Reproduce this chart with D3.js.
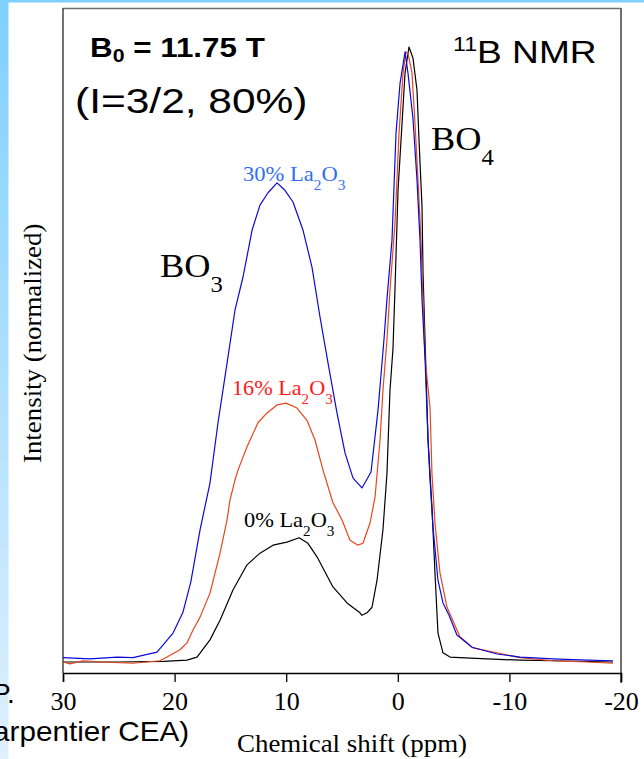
<!DOCTYPE html>
<html>
<head>
<meta charset="utf-8">
<script src="https://cdn.jsdelivr.net/npm/d3@7"></script>
<style>
  html, body { margin: 0; padding: 0; background: #ffffff; }
  svg { display: block; }
</style>
</head>
<body>
<svg id="chart" width="644" height="759"></svg>
<script>
// ---- data ----
const xTicks = [30, 20, 10, 0, -10, -20];
const xTickLabels = ["30", "20", "10", "0", "-10", "-20"];

const ppm30 = [30.00, 27.58, 25.16, 23.73, 21.58, 20.14, 19.25, 18.55, 17.72, 16.83, 16.11, 15.30, 14.59, 13.87, 13.06, 12.35, 11.63, 10.82, 10.11, 9.39, 8.49, 7.69, 6.97, 6.25, 5.45, 4.73, 4.01, 3.21, 2.40, 1.77, 1.24, 0.97, 0.52, 0.16, -0.20, -0.65, -0.91, -1.36, -1.72, -1.99, -2.17, -2.44, -2.71, -2.89, -3.15, -3.60, -4.05, -4.59, -5.30, -6.65, -8.89, -10.95, -13.91, -16.95, -19.28];
const int30 = [0.007, 0.005, 0.008, 0.007, 0.016, 0.047, 0.081, 0.130, 0.215, 0.291, 0.389, 0.486, 0.572, 0.626, 0.702, 0.743, 0.763, 0.779, 0.767, 0.748, 0.702, 0.642, 0.561, 0.486, 0.405, 0.340, 0.299, 0.283, 0.309, 0.410, 0.524, 0.590, 0.686, 0.860, 0.941, 0.992, 0.958, 0.884, 0.784, 0.686, 0.589, 0.494, 0.361, 0.296, 0.220, 0.133, 0.096, 0.076, 0.044, 0.024, 0.013, 0.008, 0.005, 0.003, 0.002];

const ppm16 = [30.00, 29.37, 28.21, 26.68, 23.73, 21.31, 20.68, 19.52, 18.89, 18.35, 17.72, 16.83, 15.93, 15.30, 15.04, 14.59, 14.32, 13.51, 12.53, 11.72, 10.82, 10.02, 9.03, 8.14, 7.42, 6.70, 5.81, 5.00, 4.28, 3.57, 3.12, 2.49, 2.04, 1.59, 1.33, 0.97, 0.70, 0.25, -0.11, -0.47, -0.73, -0.91, -1.27, -1.54, -1.81, -2.08, -2.26, -2.44, -2.89, -3.06, -3.33, -3.78, -4.41, -5.57, -6.74, -8.89, -10.95, -13.91, -16.95, -19.28];
const int16 = [0.000, -0.003, 0.002, 0.000, -0.002, 0.002, 0.008, 0.020, 0.031, 0.052, 0.073, 0.112, 0.177, 0.231, 0.263, 0.296, 0.312, 0.350, 0.389, 0.405, 0.418, 0.421, 0.413, 0.393, 0.361, 0.312, 0.259, 0.231, 0.198, 0.190, 0.193, 0.226, 0.268, 0.361, 0.442, 0.524, 0.605, 0.714, 0.860, 0.958, 0.992, 0.990, 0.958, 0.876, 0.784, 0.686, 0.589, 0.494, 0.413, 0.307, 0.226, 0.145, 0.089, 0.041, 0.023, 0.015, 0.007, 0.002, 0.000, -0.002];

const ppm0 = [30.00, 25.00, 21.00, 18.89, 17.99, 16.83, 15.93, 14.77, 13.51, 12.35, 11.18, 9.93, 8.85, 8.05, 7.24, 5.81, 4.55, 3.39, 3.21, 2.76, 2.31, 1.86, 1.33, 0.97, 0.70, 0.43, 0.25, -0.02, -0.38, -0.65, -1.00, -1.36, -1.72, -1.90, -2.17, -2.26, -2.44, -2.71, -3.06, -3.33, -3.60, -4.05, -4.68, -5.57, -7.99, -10.95, -13.91, -19.28];
const int0 = [0.000, 0.000, 0.001, 0.003, 0.008, 0.036, 0.068, 0.117, 0.158, 0.177, 0.190, 0.195, 0.202, 0.193, 0.171, 0.122, 0.096, 0.080, 0.076, 0.080, 0.089, 0.133, 0.215, 0.307, 0.442, 0.510, 0.608, 0.767, 0.876, 0.958, 1.000, 0.982, 0.930, 0.849, 0.740, 0.633, 0.524, 0.361, 0.252, 0.145, 0.047, 0.015, 0.008, 0.007, 0.005, 0.003, 0.002, 0.000];

const seriesNames = ["30% La2O3", "16% La2O3", "0% La2O3"];
const seriesColors = ["#0a0ad8", "#e8461c", "#000000"];

// ---- drawing ----
const svg = d3.select("#chart");
const serif = "'Liberation Serif', 'Times New Roman', serif";
const sans = "'Liberation Sans', Arial, sans-serif";

// slide background decoration
const defs = svg.append("defs");
const grad = defs.append("linearGradient").attr("id", "leftStrip")
  .attr("x1", 0).attr("y1", 0).attr("x2", 0).attr("y2", 1);
grad.append("stop").attr("offset", "0%").attr("stop-color", "#7fd0ff");
grad.append("stop").attr("offset", "100%").attr("stop-color", "#dff0ff");
svg.append("rect").attr("x", 0).attr("y", 0).attr("width", 644).attr("height", 2.5).attr("fill", "#7fd0ff");
svg.append("rect").attr("x", 0).attr("y", 0).attr("width", 8.5).attr("height", 759).attr("fill", "url(#leftStrip)");

const x = d3.scaleLinear().domain([30, -20]).range([63, 621]);
const y = d3.scaleLinear().domain([0, 1]).range([662, 47]);
const yAxisBottom = 673;

// frame
svg.append("line").attr("x1", 63).attr("x2", 621).attr("y1", 8.5).attr("y2", 8.5)
  .attr("stroke", "#6e6e6e").attr("stroke-width", 1.6);
svg.append("line").attr("x1", 63).attr("x2", 63).attr("y1", 8).attr("y2", yAxisBottom)
  .attr("stroke", "#444").attr("stroke-width", 1.5);
svg.append("line").attr("x1", 621).attr("x2", 621).attr("y1", 8).attr("y2", 683)
  .attr("stroke", "#6e6e6e").attr("stroke-width", 2);

// x axis
const xAxis = d3.axisBottom(x).tickValues(xTicks).tickSize(9).tickPadding(10)
  .tickFormat((d, i) => xTickLabels[i]);
const gx = svg.append("g").attr("transform", `translate(0,${yAxisBottom})`).call(xAxis);
gx.select(".domain").attr("stroke", "#000").attr("stroke-width", 1.5);
gx.selectAll(".tick line").attr("stroke", "#000").attr("stroke-width", 1.3);
gx.selectAll(".tick text").attr("font-family", serif).attr("font-size", 26).attr("fill", "#000");

// curves
const line = d3.line().x(d => x(d[0])).y(d => y(d[1]));
const data = [d3.zip(ppm30, int30), d3.zip(ppm16, int16), d3.zip(ppm0, int0)];
[2, 1, 0].forEach(i => {
  svg.append("path").datum(data[i]).attr("d", line)
    .attr("fill", "none").attr("stroke", seriesColors[i]).attr("stroke-width", 1.2)
    .attr("stroke-linejoin", "round");
});

// text placed in a group that is stretched horizontally (as in the reference slide)
function stretched(xPos, yPos, sx) {
  return svg.append("g").attr("transform", `translate(${xPos},${yPos}) scale(${sx},1)`);
}

// axis titles
stretched(237, 752, 1.055).append("text")
  .attr("font-family", serif).attr("font-size", 25.5).attr("fill", "#000")
  .text("Chemical shift (ppm)");
svg.append("g").attr("transform", "translate(41,463) rotate(-90) scale(1.075,1)")
  .append("text")
  .attr("font-family", serif).attr("font-size", 25).attr("fill", "#000")
  .text("Intensity (normalized)");

function chem(parent, parts, size, color, family) {
  const t = parent.append("text")
    .attr("font-family", family).attr("font-size", size).attr("fill", color);
  parts.forEach(p => {
    const ts = t.append("tspan").text(p.t);
    if (p.sub) ts.attr("font-size", size * 0.68).attr("dy", size * 0.45);
    if (p.up) ts.attr("dy", -size * 0.45);
  });
  return t;
}

// series labels
chem(stretched(243, 181, 1.13), [{t: "30% La"}, {t: "2", sub: true}, {t: "O", up: true}, {t: "3", sub: true}], 20, "#2f6ff2", serif);
chem(stretched(232, 395, 1.11), [{t: "16% La"}, {t: "2", sub: true}, {t: "O", up: true}, {t: "3", sub: true}], 20, "#ff1a1a", serif);
chem(stretched(244, 527, 1.12), [{t: "0% La"}, {t: "2", sub: true}, {t: "O", up: true}, {t: "3", sub: true}], 20, "#000", serif);

// BO3 / BO4
chem(stretched(160, 277, 1.1), [{t: "BO"}, {t: "3", sub: true}], 33, "#000", serif);
chem(stretched(431, 150, 1.1), [{t: "BO"}, {t: "4", sub: true}], 33, "#000", serif);

// top-left annotations
const b0 = stretched(90, 57, 1.12).append("text")
  .attr("font-family", sans).attr("font-size", 28).attr("font-weight", "bold").attr("fill", "#000");
b0.append("tspan").text("B");
b0.append("tspan").text("0").attr("font-size", 19).attr("dy", 5);
b0.append("tspan").text(" = 11.75 T").attr("dy", -5);

stretched(75, 113, 1.18).append("text")
  .attr("font-family", sans).attr("font-size", 36).attr("fill", "#000")
  .text("(I=3/2, 80%)");

const nmr = stretched(453, 63, 1.16).append("text")
  .attr("font-family", sans).attr("font-size", 32).attr("fill", "#000");
nmr.append("tspan").text("11").attr("font-size", 20).attr("dy", -12);
nmr.append("tspan").text("B NMR").attr("dy", 12);

// slide text fragments at lower left (cut by the page edge as in the reference)
stretched(-7, 741, 1.06).append("text")
  .attr("font-family", sans).attr("font-size", 28).attr("fill", "#000")
  .text("arpentier CEA)");
svg.append("text").attr("x", -8).attr("y", 703)
  .attr("font-family", sans).attr("font-size", 28).attr("fill", "#000")
  .text("P.");
</script>
</body>
</html>
